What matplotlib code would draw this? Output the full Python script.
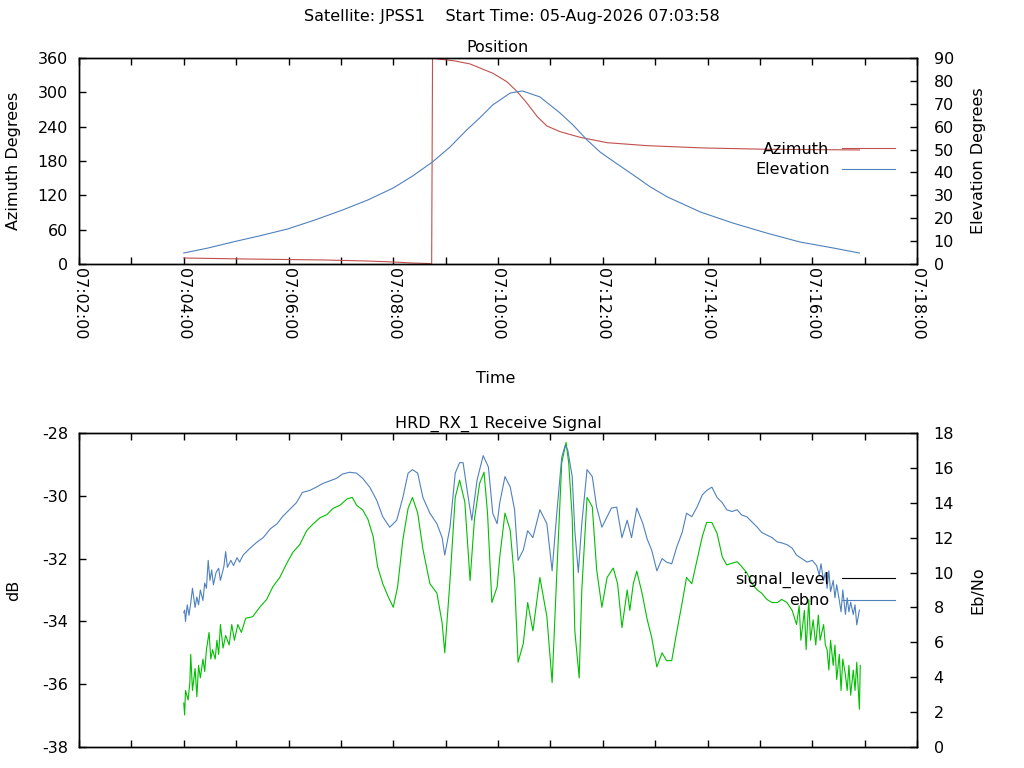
import matplotlib
matplotlib.use('Agg')
import matplotlib.pyplot as plt
from matplotlib.lines import Line2D
from matplotlib.ticker import FuncFormatter, MultipleLocator

plt.rcParams['font.family'] = ['DejaVu Sans']
plt.rcParams['font.size'] = 11.5
plt.rcParams['axes.unicode_minus'] = False

satellite = 'JPSS1'
start_time = '05-Aug-2026 07:03:58'
receiver = 'HRD_RX_1'

# pass starts 07:04:00, all times below are seconds after that
pass_start = 7 * 3600 + 4 * 60

az_t = [0, 73, 162, 211, 240, 262, 278, 284, 285, 293,
        310, 328, 354, 370, 382, 393, 405, 416, 431, 454,
        485, 531, 595, 668, 774]
azimuth = [10.5, 8.7, 7.0, 5.2, 3.5, 1.7, 1.0, 0.2, 359.8, 358.0,
           355.0, 349.6, 333.4, 318.7, 301.2, 281.4, 257.5, 241.2, 231.3, 221.4,
           212.0, 206.8, 202.8, 200.5, 199.3]

el_t = [0, 28, 56, 87, 119, 150, 182, 211, 240, 262,
        285, 305, 324, 339, 354, 374, 388, 408, 431, 446,
        462, 477, 495, 515, 534, 554, 592, 629, 668, 706,
        744, 774]
elevation = [4.8, 7.0, 9.6, 12.3, 15.3, 19.2, 23.6, 28.0, 33.2, 38.4,
             44.6, 51.1, 58.5, 63.8, 69.5, 74.7, 75.6, 73.0, 66.0, 60.7,
             54.2, 48.9, 44.1, 38.9, 33.8, 29.3, 22.7, 17.9, 13.5, 9.6,
             7.0, 4.8]

sig_t = [0, 1, 2, 5, 7, 8, 10, 13, 15, 17,
         19, 22, 24, 26, 29, 31, 33, 36, 38, 40,
         42, 45, 48, 52, 55, 58, 62, 66, 71,
         79, 87, 95, 102, 110, 118, 125, 133, 141, 148,
         156, 164, 171, 179, 187, 193, 198, 205, 211, 217,
         222, 228, 234, 240, 245, 251, 257, 262, 268, 274,
         282, 290, 296, 299, 305, 311, 316, 322, 328, 333,
         339, 344, 348, 353, 359, 362, 368, 374, 379, 383,
         389, 394, 400, 408, 416, 422, 427, 433, 438, 441,
         445, 448, 453, 456, 462, 468, 473, 479, 485, 492,
         497, 502, 508, 511, 515, 519, 525, 531, 536, 542,
         548, 553, 559, 565, 571, 576, 582, 588, 594, 599,
         605, 611, 617, 622, 628, 634, 639, 645, 651, 657,
         662, 668, 674, 680, 685, 691, 697,
         702, 705, 707, 711, 713, 716, 718, 721, 724, 727,
         729, 733, 735, 737, 739, 741, 744, 746, 748, 751,
         753, 755, 758, 760, 762, 764, 767, 769, 771, 774,
         775]
signal_level = [-36.6, -36.98, -36.2, -36.5, -35.95, -35.05, -36.2, -35.5, -36.4, -35.4,
                -35.8, -35.2, -35.6, -34.9, -34.35, -35.2, -34.9, -35.2, -34.6, -35.05,
                -34.1, -34.85, -34.45, -34.75, -34.1, -34.6, -34.1, -34.35, -33.9,
                -33.85, -33.55, -33.3, -32.9, -32.6, -32.15, -31.8, -31.55, -31.1, -30.9,
                -30.7, -30.6, -30.4, -30.3, -30.1, -30.05, -30.3, -30.45, -30.75, -31.3,
                -32.25, -32.8, -33.2, -33.55, -32.9, -31.4, -30.4, -30.05, -30.55, -31.7,
                -32.8, -33.1, -34.05, -35.0, -32.7, -30.05, -29.5, -30.2, -32.7, -30.75,
                -29.6, -29.25, -30.55, -33.4, -32.9, -31.95, -30.55, -31.1, -32.7, -35.3,
                -34.7, -33.4, -34.3, -32.6, -33.85, -35.95, -32.7, -28.95, -28.3, -28.95,
                -30.7, -34.3, -35.8, -33.0, -30.05, -30.35, -32.35, -33.55, -32.6, -32.3,
                -32.8, -34.2, -33.0, -33.65, -32.8, -32.4, -33.1, -33.95, -34.5, -35.45,
                -35.0, -35.25, -35.25, -34.3, -33.4, -32.6, -32.8, -32.05, -31.3, -30.85,
                -30.85, -31.2, -31.95, -32.2, -32.15, -32.1, -32.25, -32.45, -32.8, -33.0,
                -33.1, -33.3, -33.4, -33.4, -33.3, -33.4, -33.65,
                -34.1, -33.5, -34.6, -33.65, -34.9, -33.3, -34.6, -33.95, -34.75, -33.8,
                -34.6, -34.1, -34.75, -34.9, -35.55, -34.6, -35.4, -34.75, -35.85, -35.05,
                -36.2, -35.2, -35.7, -36.2, -35.4, -36.35, -35.55, -36.2, -35.3, -36.8,
                -35.4]

ebno_t = [0, 1, 2, 4, 6, 8, 10, 13, 15, 17,
          19, 22, 24, 26, 28, 30, 32, 34, 37, 40,
          42, 46, 48, 50, 54, 57, 61, 64, 68,
          76, 84, 91, 99, 107, 113, 121, 129, 136, 144,
          152, 159, 167, 175, 182, 190, 198, 205, 213, 221,
          228, 236, 244, 251, 257, 262, 268, 274, 282, 290,
          296, 299, 305, 311, 316, 320, 325, 330, 336, 343,
          349, 354, 359, 362, 368, 374, 379, 383, 389, 394,
          400, 408, 416, 422, 427, 433, 437, 440, 445, 448,
          452, 456, 462, 468, 473, 479, 485, 490, 496, 502,
          508, 513, 519, 526, 531, 536, 542, 548, 553, 559,
          565, 571, 576, 582, 588, 594, 599, 605, 611, 617,
          622, 628, 634, 639, 645, 651, 657, 662, 668, 674,
          680, 685, 691, 697, 702, 708, 714, 720,
          725, 728, 730, 733, 735, 737, 739, 741, 744, 746,
          748, 751, 753, 755, 758, 760, 762, 764, 767, 769,
          771, 774]
ebno = [7.7, 7.85, 7.2, 8.15, 7.55, 8.25, 9.1, 8.0, 8.6, 8.15,
        9.0, 8.4, 9.4, 9.1, 10.7, 9.55, 10.15, 9.3, 10.0, 10.25,
        9.55, 10.35, 11.2, 10.3, 10.7, 10.4, 10.85, 10.6, 11.0,
        11.4, 11.75, 12.0, 12.5, 12.8, 13.2, 13.6, 14.0, 14.6, 14.7,
        14.9, 15.1, 15.25, 15.4, 15.65, 15.75, 15.7, 15.4, 14.9, 14.15,
        13.2, 12.6, 13.0, 14.3, 15.7, 15.9, 15.7, 14.3, 13.4, 12.8,
        12.0, 11.0, 12.6, 15.7, 16.3, 16.3, 14.6, 13.0, 15.3, 16.7,
        16.05, 13.4, 12.8, 14.0, 15.5, 14.9, 13.6, 10.7, 11.3, 12.4,
        12.0, 13.6, 12.8, 10.1, 13.2, 16.6, 17.3, 17.0, 15.5, 12.4,
        10.0, 12.8, 15.9, 15.5, 13.75, 12.6, 13.2, 13.7, 13.75, 12.0,
        13.0, 12.0, 13.7, 12.8, 11.9, 11.3, 10.1, 10.8, 10.6, 10.5,
        11.5, 12.3, 13.4, 13.2, 13.75, 14.45, 14.7, 14.9, 14.3, 14.0,
        13.6, 13.5, 13.6, 13.3, 13.2, 12.9, 12.6, 12.3, 12.15, 12.0,
        11.75, 11.7, 11.6, 11.4, 11.0, 10.8, 10.6, 10.7,
        10.4, 9.85, 10.5, 9.55, 10.0, 9.1, 10.1, 8.9, 9.55, 8.55,
        9.3, 8.4, 7.75, 9.0, 7.6, 8.55, 7.75, 8.3, 7.6, 8.15,
        7.0, 7.85]

RED = '#c0504d'
BLUE = '#4f81bd'
GREEN = '#00c000'


def hms(x, pos=None):
    x = int(round(x))
    return '%02d:%02d:%02d' % (x // 3600, (x // 60) % 60, x % 60)


def secs(ts):
    return [pass_start + t for t in ts]


def style_x(ax, labels=True):
    ax.set_xlim(pass_start - 120, pass_start + 840)
    ax.xaxis.set_major_locator(MultipleLocator(120))
    ax.xaxis.set_minor_locator(MultipleLocator(60))
    ax.xaxis.set_major_formatter(FuncFormatter(hms))
    ax.tick_params(axis='x', which='both', direction='in', top=True,
                   length=5, width=1, pad=3, labelbottom=labels,
                   labelrotation=-90)


fig = plt.figure(figsize=(10.24, 7.68), dpi=100)

# ---- position plot
ax1 = fig.add_axes([79 / 1024, 1 - 264 / 768, 838 / 1024, 206 / 768])
ax1r = ax1.twinx()
l_az, = ax1.plot(secs(az_t), azimuth, color=RED, lw=0.8)
l_el, = ax1r.plot(secs(el_t), elevation, color=BLUE, lw=0.8)
style_x(ax1)
ax1.set_ylim(0, 360)
ax1.set_yticks(range(0, 361, 60))
ax1.tick_params(axis='y', direction='in', length=5, width=1, pad=8)
ax1r.set_ylim(0, 90)
ax1r.set_yticks(range(0, 91, 10))
ax1r.tick_params(axis='y', direction='in', length=5, width=1, pad=12)
ax1.set_title('Position', fontsize=11.5, pad=4)

# ---- receive signal plot
ax2 = fig.add_axes([79 / 1024, 1 - 747 / 768, 838 / 1024, 314 / 768])
ax2r = ax2.twinx()
l_sig, = ax2.plot(secs(sig_t), signal_level, color=GREEN, lw=0.8)
l_eb, = ax2r.plot(secs(ebno_t), ebno, color=BLUE, lw=0.8)
style_x(ax2, labels=False)
ax2.set_ylim(-38, -28)
ax2.set_yticks(range(-38, -27, 2))
ax2.tick_params(axis='y', direction='in', length=5, width=1, pad=8)
ax2r.set_ylim(0, 18)
ax2r.set_yticks(range(0, 19, 2))
ax2r.tick_params(axis='y', direction='in', length=5, width=1, pad=12)
ax2.set_title(receiver + ' Receive Signal', fontsize=11.5, pad=4)

for ax in (ax1, ax1r, ax2, ax2r):
    for s in ax.spines.values():
        s.set_linewidth(1.0)

# texts
fig.text(0.5, 1 - 17 / 768,
         'Satellite: %s    Start Time: %s' % (satellite, start_time),
         ha='center', va='center')
fig.text(14 / 1024, 1 - 161 / 768, 'Azimuth Degrees', rotation=90,
         ha='center', va='center')
fig.text(978 / 1024, 1 - 161 / 768, 'Elevation Degrees', rotation=90,
         ha='center', va='center')
fig.text(496 / 1024, 1 - 379 / 768, 'Time', ha='center', va='center')
fig.text(14 / 1024, 1 - 590 / 768, 'dB', rotation=90,
         ha='center', va='center')
fig.text(978 / 1024, 1 - 590 / 768, 'Eb/No', rotation=90,
         ha='center', va='center')

leg_kw = dict(loc='upper right', frameon=False, markerfirst=False,
              handlelength=3.3, handletextpad=0.8, labelspacing=0.33,
              borderpad=0, borderaxespad=0)
fig.legend([l_az, l_el], ['Azimuth', 'Elevation'],
           bbox_to_anchor=(895 / 1024, 1 - 142 / 768), **leg_kw)
sig_handle = Line2D([], [], color='black', lw=0.8)
fig.legend([sig_handle, l_eb], ['signal_level', 'ebno'],
           bbox_to_anchor=(895 / 1024, 1 - 572 / 768), **leg_kw)

fig.savefig('out.png', dpi=100)
